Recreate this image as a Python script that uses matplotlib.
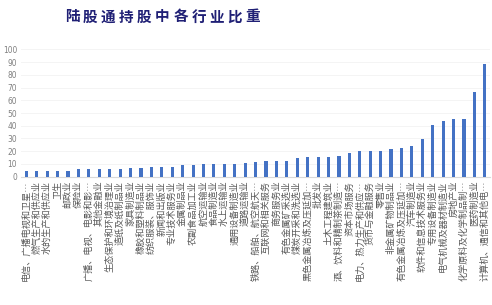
import matplotlib
matplotlib.use('Agg')
import matplotlib.pyplot as plt
import numpy as np

plt.rcParams['font.family'] = ['Noto Sans CJK SC', 'DejaVu Sans']

title = '陆股通持股中各行业比重'
industries = [
    '电信、广播电视和卫星…', '燃气生产和供应业', '水的生产和供应业', '卫生', '邮政业',
    '保险业', '广播、电视、电影和影…', '其他金融业', '生态保护和环境治理业', '造纸及纸制品业',
    '家具制造业', '橡胶和塑料制品业', '纺织服装、服饰业', '新闻和出版业', '专业技术服务业',
    '金属制品业', '农副食品加工业', '航空运输业', '食品制造业', '水上运输业',
    '通用设备制造业', '道路运输业', '铁路、船舶、航空航天…', '互联网和相关服务', '商务服务业',
    '有色金属矿采选业', '煤炭开采和洗选业', '黑色金属冶炼及压延加…', '批发业', '土木工程建筑业',
    '酒、饮料和精制茶制造…', '资本市场服务', '电力、热力生产和供应…', '货币与金融服务', '零售业',
    '非金属矿物制品业', '有色金属冶炼及压延加…', '汽车制造业', '软件和信息技术服务业', '专用设备制造业',
    '电气机械及器材制造业', '房地产业', '化学原料及化学制品制…', '医药制造业', '计算机、通信和其他电…',
]
share = [
    4.4, 4.4, 4.4, 4.4, 4.4,
    6.0, 6.0, 6.0, 6.0, 6.0,
    7.1, 7.1, 7.9, 7.9, 7.9,
    8.9, 8.9, 9.7, 9.7, 9.7,
    9.7, 10.5, 11.5, 12.4, 12.4,
    12.4, 14.7, 15.6, 15.6, 15.6,
    16.4, 18.5, 20.4, 20.4, 20.4,
    21.9, 22.7, 23.8, 29.8, 40.7,
    43.9, 45.5, 45.5, 66.8, 88.2,
]

fig = plt.figure(figsize=(4.92, 3.05), dpi=100)
ax = fig.add_axes([0.043, 0.421, 0.953, 0.417])

x = np.arange(len(industries))
ax.bar(x, share, width=0.3, color='#4472C4', zorder=3)

ax.set_xlim(-0.5, len(industries) - 0.5)
ax.set_ylim(0, 100)
ax.set_yticks(np.arange(0, 101, 10))
ax.tick_params(axis='y', length=0, labelsize=6, labelcolor='#808080', pad=3)
ax.set_xticks(x)
ax.set_xticklabels(industries, rotation=90, fontsize=6.6, color='#595959')
ax.tick_params(axis='x', length=0, pad=3)
for lab in ax.get_yticklabels():
    lab.set_family('DejaVu Sans')
    lab.set_fontstretch('condensed')

ax.grid(axis='y', color='#f2f2f2', lw=0.6, zorder=0)
for s in ['top', 'right', 'left']:
    ax.spines[s].set_visible(False)
ax.spines['bottom'].set_color('#d9d9d9')
ax.spines['bottom'].set_linewidth(0.8)

# title with wide letter spacing
for i, ch in enumerate(title):
    fig.text((72 + i * 18.1) / 492, 1 - 16.5 / 305, ch, fontsize=10.5,
             fontweight='bold', color='#1f1f75', ha='center', va='center')

fig.savefig('out.png', dpi=100)
